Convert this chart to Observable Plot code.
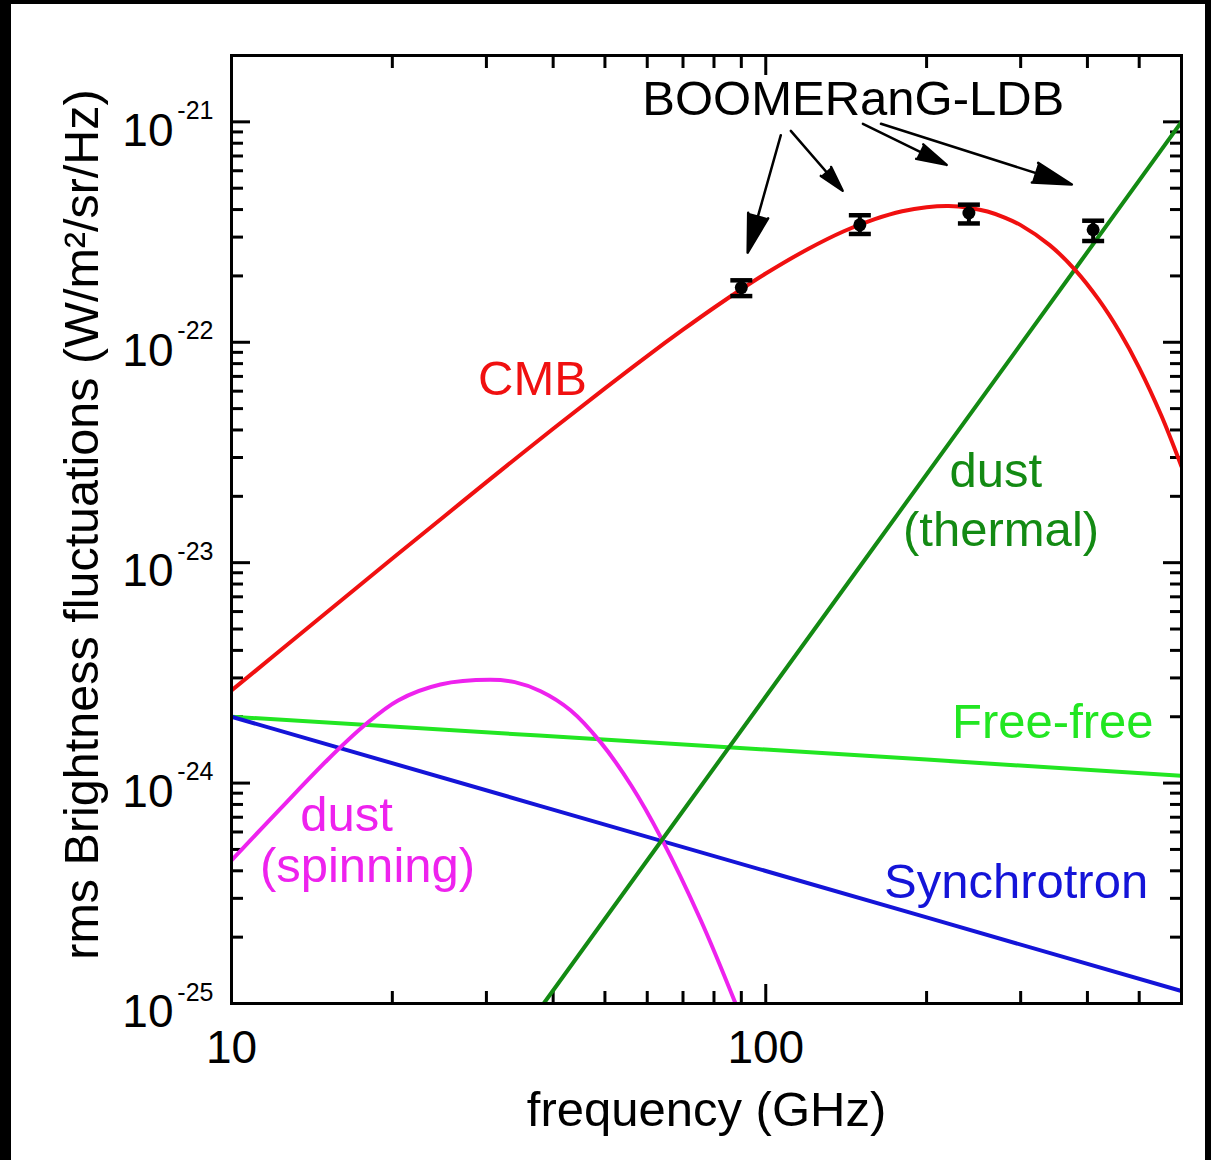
<!DOCTYPE html>
<html>
<head>
<meta charset="utf-8">
<script src="https://cdn.jsdelivr.net/npm/d3@7"></script>
<script src="https://cdn.jsdelivr.net/npm/@observablehq/plot@0.6"></script>
<style>
  html, body { margin: 0; padding: 0; background: #000; }
  #sheet { position: absolute; left: 11px; top: 4px; width: 1194px; height: 1156px; background: #fff; }
  svg { display: block; }
</style>
</head>
<body>
<div id="sheet"></div>
<script>
// Frequencies in GHz, rms brightness fluctuations in W/m^2/sr/Hz

// CMB anisotropy spectrum
const cmbFreq  = [10, 12, 15, 20, 25, 30, 40, 50, 60, 70, 80, 90, 100, 120, 140, 160, 180, 200, 220, 240, 260, 280, 300, 340, 380, 420, 460, 500, 550, 600];
const cmbValue = [2.63e-24, 3.78e-24, 5.90e-24, 1.044e-23, 1.62e-23, 2.32e-23, 4.05e-23, 6.18e-23, 8.66e-23, 1.14e-22, 1.434e-22, 1.74e-22, 2.05e-22, 2.65e-22, 3.19e-22, 3.62e-22, 3.93e-22, 4.10e-22, 4.15e-22, 4.08e-22, 3.92e-22, 3.68e-22, 3.40e-22, 2.76e-22, 2.12e-22, 1.56e-22, 1.11e-22, 7.66e-23, 4.65e-23, 2.73e-23];

// Thermal dust
const thermalFreq  = [38.4, 100, 300, 600];
const thermalValue = [1.0e-25, 2.47e-24, 9.78e-23, 1.0e-21];

// Free-free
const freeFreeFreq  = [10, 100, 600];
const freeFreeValue = [2.0e-24, 1.42e-24, 1.08e-24];

// Synchrotron
const synchFreq  = [10, 100, 600];
const synchValue = [2.0e-24, 3.99e-25, 1.14e-25];

// Spinning dust
const spinFreq  = [10, 12.35, 15.1, 17.7, 20.5, 24.6, 30.5, 33.9, 37.9, 43.1, 49.1, 56, 63.8, 75.5, 87.8];
const spinValue = [4.46e-25, 7.66e-25, 1.27e-24, 1.82e-24, 2.37e-24, 2.80e-24, 2.94e-24, 2.87e-24, 2.61e-24, 2.14e-24, 1.53e-24, 9.75e-25, 5.6e-25, 2.40e-25, 1.0e-25];

// BOOMERanG-LDB band measurements with error bars
const boomFreq  = [90, 150, 240, 410];
const boomValue = [1.77e-22, 3.41e-22, 3.86e-22, 3.24e-22];
const boomLow   = [1.62e-22, 3.10e-22, 3.46e-22, 2.88e-22];
const boomHigh  = [1.91e-22, 3.77e-22, 4.21e-22, 3.56e-22];

// Annotation arrows from the instrument label to the bands
const arrowFromFreq  = [106.7, 111.4, 152.0, 164.3];
const arrowFromValue = [8.7e-22, 9.1e-22, 9.8e-22, 9.8e-22];
const arrowToFreq    = [92.5, 139.3, 218.1, 374];
const arrowToValue   = [2.55e-22, 4.87e-22, 6.38e-22, 5.2e-22];

// Curve labels
const labelText   = ["CMB", "dust", "(thermal)", "Free-free", "Synchrotron", "dust", "(spinning)", "BOOMERanG-LDB"];
const labelSeries = ["cmb", "thermal", "thermal", "freeFree", "synchrotron", "spinning", "spinning", "boom"];
const labelFreq   = [36.6, 269.6, 275.7, 344.6, 294.1, 16.42, 17.97, 145.8];
const labelValue  = [6.76e-23, 2.61e-23, 1.40e-23, 1.88e-24, 3.54e-25, 7.13e-25, 4.18e-25, 1.27e-21];

// Axis ticks
const xMajor = [10, 100];
const xMajorText = ["10", "100"];
const xMinor = [20, 30, 40, 50, 60, 70, 80, 90, 200, 300, 400, 500];
const yMajor = [1e-25, 1e-24, 1e-23, 1e-22, 1e-21];
const yMajorExp = ["-25", "-24", "-23", "-22", "-21"];
const yMinor = [];
for (const e of [-25, -24, -23, -22]) for (let m = 2; m <= 9; m++) yMinor.push(+(m + "e" + e));

const xLabel = "frequency (GHz)";
const yLabel = "rms Brightness fluctuations (W/m²/sr/Hz)";

// Styling
const colors = {
  cmb: "#f01010",
  thermal: "#138a13",
  freeFree: "#22e622",
  synchrotron: "#1414d8",
  spinning: "#ee22ee",
  boom: "#000000"
};
const font = "'Liberation Sans', Arial, Helvetica, sans-serif";

const zip = (xs, ys) => xs.map((x, i) => ({freq: x, value: ys[i]}));
const cmb = zip(cmbFreq, cmbValue);
const thermal = zip(thermalFreq, thermalValue);
const freeFree = zip(freeFreeFreq, freeFreeValue);
const synch = zip(synchFreq, synchValue);
const spin = zip(spinFreq, spinValue);
const boom = boomFreq.map((f, i) => ({freq: f, value: boomValue[i], low: boomLow[i], high: boomHigh[i]}));
const arrows = arrowFromFreq.map((f, i) => ({x1: f, y1: arrowFromValue[i], x2: arrowToFreq[i], y2: arrowToValue[i]}));
const labels = labelText.map((t, i) => ({text: t, series: labelSeries[i], freq: labelFreq[i], value: labelValue[i]}));

// Horizontal cap drawn as a dot symbol
const cap = { draw(ctx) { ctx.moveTo(-11, 0); ctx.lineTo(11, 0); } };

const lineStyle = {x: "freq", y: "value", strokeWidth: 4, curve: "catmull-rom", clip: true};
const tickStyle = {strokeWidth: 3, tickFormat: () => "", label: null};

const chart = Plot.plot({
  width: 1194,
  height: 1156,
  marginLeft: 220,
  marginRight: 24,
  marginTop: 51,
  marginBottom: 157,
  style: {fontFamily: font, background: "#fff", color: "#000"},
  x: {type: "log", domain: [10, 600], axis: null},
  y: {type: "log", domain: [1e-25, 2e-21], axis: null},
  marks: [
    // inward ticks on all four sides
    Plot.axisX(xMajor, {anchor: "bottom", tickSize: -19, ...tickStyle}),
    Plot.axisX(xMinor, {anchor: "bottom", tickSize: -12, ...tickStyle}),
    Plot.axisX(xMajor, {anchor: "top", tickSize: -19, ...tickStyle}),
    Plot.axisX(xMinor, {anchor: "top", tickSize: -12, ...tickStyle}),
    Plot.axisY(yMajor, {anchor: "left", tickSize: -19, ...tickStyle}),
    Plot.axisY(yMinor, {anchor: "left", tickSize: -12, ...tickStyle}),
    Plot.axisY(yMajor, {anchor: "right", tickSize: -19, ...tickStyle}),
    Plot.axisY(yMinor, {anchor: "right", tickSize: -12, ...tickStyle}),

    // tick labels: 10 with superscript exponent on y, plain on x
    Plot.text(yMajor, {y: d => d, frameAnchor: "left", text: () => "10", textAnchor: "end", lineAnchor: "middle", dx: -58, dy: 9, fontSize: 46, fill: "#000"}),
    Plot.text(yMajor, {y: d => d, frameAnchor: "left", text: (d, i) => yMajorExp[i], textAnchor: "end", lineAnchor: "middle", dx: -18, dy: -11, fontSize: 25, fill: "#000"}),
    Plot.text(xMajor, {x: d => d, frameAnchor: "bottom", text: (d, i) => xMajorText[i], textAnchor: "middle", lineAnchor: "bottom", dy: 59, fontSize: 46, fill: "#000"}),

    // axis titles
    Plot.text([xLabel], {text: d => d, frameAnchor: "bottom", textAnchor: "middle", lineAnchor: "bottom", dy: 122, fontSize: 49, fill: "#000"}),
    Plot.text([yLabel], {text: d => d, frameAnchor: "left", textAnchor: "middle", lineAnchor: "bottom", rotate: -90, dx: -134, dy: -5, fontSize: 48.5, fill: "#000"}),

    // foreground components
    Plot.line(freeFree, {...lineStyle, stroke: colors.freeFree}),
    Plot.line(synch, {...lineStyle, stroke: colors.synchrotron}),
    Plot.line(spin, {...lineStyle, stroke: colors.spinning}),
    Plot.line(thermal, {...lineStyle, stroke: colors.thermal}),
    Plot.line(cmb, {...lineStyle, stroke: colors.cmb}),

    // measurements
    Plot.ruleX(boom, {x: "freq", y1: "low", y2: "high", stroke: "#000", strokeWidth: 4}),
    Plot.dot(boom, {x: "freq", y: "high", symbol: cap, r: 5, stroke: "#000", strokeWidth: 4.5}),
    Plot.dot(boom, {x: "freq", y: "low", symbol: cap, r: 5, stroke: "#000", strokeWidth: 4.5}),
    Plot.dot(boom, {x: "freq", y: "value", r: 6.5, fill: "#000", stroke: null}),

    // annotation arrows
    Plot.arrow(arrows, {x1: "x1", y1: "y1", x2: "x2", y2: "y2", stroke: "#000", fill: "#000", strokeWidth: 2.5, headLength: 24, headAngle: 30}),

    // curve labels
    ...labels.map(l => Plot.text([l], {x: "freq", y: "value", text: "text", fontSize: 49, fill: colors[l.series]})),

    Plot.frame({stroke: "#000", strokeWidth: 3})
  ]
});

document.getElementById("sheet").append(chart);
</script>
</body>
</html>
